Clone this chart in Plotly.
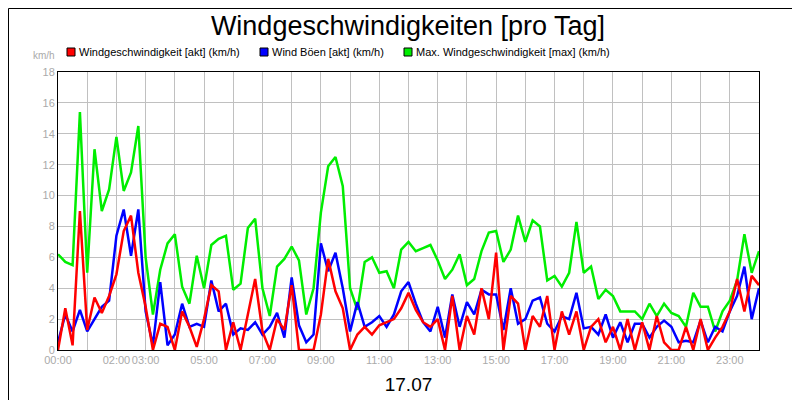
import plotly.graph_objects as go

hours = [i * 0.25 for i in range(97)]
red = [0.0, 2.7, 0.3, 9.0, 1.3, 3.4, 2.4, 3.5, 4.9, 7.7, 8.7, 5.0,
       2.8, 0.0, 1.7, 1.5, 0.0, 2.5, 1.5, 0.2, 2.0, 4.2, 3.8, 0.0,
       1.8, 0.0, 2.3, 4.6, 1.2, 0.0, 2.0, 1.3, 4.2, 0.0, 0.0, 0.0,
       2.3, 5.9, 3.8, 2.7, 0.0, 1.0, 1.5, 1.0, 1.6, 1.8, 2.0, 2.7,
       3.7, 2.6, 1.8, 1.5, 2.0, 0.0, 3.5, 0.0, 2.2, 1.0, 4.0, 2.0,
       6.3, 0.0, 3.5, 3.0, 0.0, 2.2, 1.5, 3.5, 0.0, 2.5, 1.0, 2.5,
       0.0, 1.5, 2.0, 0.5, 1.5, 0.0, 2.0, 0.0, 1.8, 0.0, 2.2, 0.5,
       0.0, 0.0, 1.5, 0.0, 2.0, 0.0, 0.8, 1.5, 2.5, 4.6, 2.5, 4.8, 4.2]
blue = [0.5, 2.3, 1.2, 2.6, 1.2, 2.0, 2.8, 3.2, 7.4, 9.1, 6.1, 9.1,
        2.5, 0.3, 4.4, 0.3, 1.0, 3.0, 1.5, 1.7, 1.5, 4.5, 2.5, 3.0,
        1.0, 1.4, 1.3, 1.8, 1.0, 1.5, 2.4, 0.8, 4.7, 1.6, 0.5, 1.0,
        6.9, 5.1, 6.3, 4.0, 1.2, 3.1, 1.5, 1.8, 2.2, 1.5, 2.3, 3.8,
        4.4, 3.0, 1.8, 1.2, 2.8, 0.8, 3.6, 1.5, 3.1, 2.3, 3.9, 3.6,
        3.6, 1.3, 4.0, 1.7, 2.0, 3.2, 3.4, 1.7, 1.2, 2.2, 2.0, 3.7,
        1.4, 1.5, 1.0, 2.3, 0.8, 1.8, 0.5, 1.7, 1.7, 0.8, 1.5, 1.9,
        1.5, 0.5, 0.6, 0.5, 1.9, 0.5, 1.5, 1.2, 2.5, 3.5, 5.4, 2.0, 4.0]
green = [6.2, 5.7, 5.5, 15.4, 5.0, 13.0, 9.0, 10.4, 13.8, 10.3, 11.5, 14.5,
         6.0, 2.3, 5.2, 6.9, 7.5, 4.1, 3.0, 6.1, 4.0, 6.8, 7.2, 7.4,
         3.9, 4.3, 7.9, 8.5, 4.0, 2.2, 5.4, 5.9, 6.7, 5.8, 2.3, 4.0,
         8.9, 11.9, 12.5, 10.6, 4.0, 2.6, 5.7, 6.0, 5.0, 5.1, 4.0, 6.5,
         7.0, 6.4, 6.6, 6.8, 5.8, 4.6, 5.2, 6.2, 4.2, 4.6, 6.4, 7.6,
         7.7, 5.7, 6.5, 8.7, 7.0, 8.4, 8.0, 4.5, 4.8, 4.1, 5.0, 8.3,
         5.0, 5.4, 3.3, 3.9, 3.5, 2.5, 2.5, 2.5, 2.0, 3.0, 2.2, 3.0,
         2.4, 2.2, 1.5, 3.7, 2.8, 2.8, 1.2, 2.5, 3.2, 4.5, 7.5, 5.0, 6.4]
names = ["Windgeschwindigkeit [akt] (km/h)", "Wind Böen [akt] (km/h)",
         "Max. Windgeschwindigkeit [max] (km/h)"]
colors = ["#ff0000", "#0000ff", "#00ee00"]
tick_hours = list(range(25))
tick_labels = {0: "00:00", 2: "02:00", 3: "03:00", 5: "05:00", 7: "07:00", 9: "09:00",
               11: "11:00", 13: "13:00", 15: "15:00", 17: "17:00", 19: "19:00",
               21: "21:00", 23: "23:00"}

fig = go.Figure()
for ys, c in [(green, colors[2]), (blue, colors[1]), (red, colors[0])]:
    fig.add_trace(go.Scatter(x=hours, y=ys, mode="lines", line=dict(color=c, width=2.5),
                             showlegend=False, hoverinfo="skip"))

W, H = 701, 278
def px(x): return (x - 50) / W
def py(y): return (342 - y) / H

shapes = [dict(type="rect", xref="paper", yref="paper",
               x0=px(0.5), x1=px(799.5), y0=py(399.5), y1=py(0.5),
               line=dict(color="black", width=1))]
annotations = [dict(text="km/h", xref="paper", yref="paper", x=px(49), y=py(48),
                    xanchor="right", yanchor="middle", showarrow=False,
                    font=dict(size=10, color="#aaaaaa"))]
for n, c, lx in zip(names, colors, [60, 253, 397]):
    shapes.append(dict(type="rect", xref="paper", yref="paper",
                       x0=px(lx - 1), x1=px(lx + 7), y0=py(48), y1=py(40),
                       fillcolor=c, line=dict(color="black", width=1)))
    annotations.append(dict(text=n, xref="paper", yref="paper", x=px(lx + 9), y=py(44),
                            xanchor="left", yanchor="middle", showarrow=False,
                            font=dict(size=11, color="black")))

fig.update_layout(
    width=800, height=400, margin=dict(l=50, r=49, t=64, b=58),
    paper_bgcolor="white", plot_bgcolor="white", showlegend=False,
    font=dict(family="Liberation Sans, Arial", color="black"),
    title=dict(text="Windgeschwindigkeiten [pro Tag]", x=0.5, xanchor="center",
               y=0.955, yanchor="middle", font=dict(size=27)),
    xaxis=dict(range=[0, 24], tickvals=tick_hours, tickangle=0,
               ticktext=[tick_labels.get(h, "") for h in tick_hours],
               showgrid=True, gridcolor="#c0c0c0", gridwidth=1,
               tickfont=dict(size=11, color="#aaaaaa"), ticks="",
               showline=True, linecolor="black", mirror=True, zeroline=False,
               title=dict(text="17.07", font=dict(size=19), standoff=12)),
    yaxis=dict(range=[0, 18], dtick=2, showgrid=True, gridcolor="#c0c0c0",
               tickfont=dict(size=11, color="#aaaaaa"), ticks="",
               showline=True, linecolor="black", mirror=True, zeroline=False),
    shapes=shapes, annotations=annotations,
)
fig.write_html("out.html")
